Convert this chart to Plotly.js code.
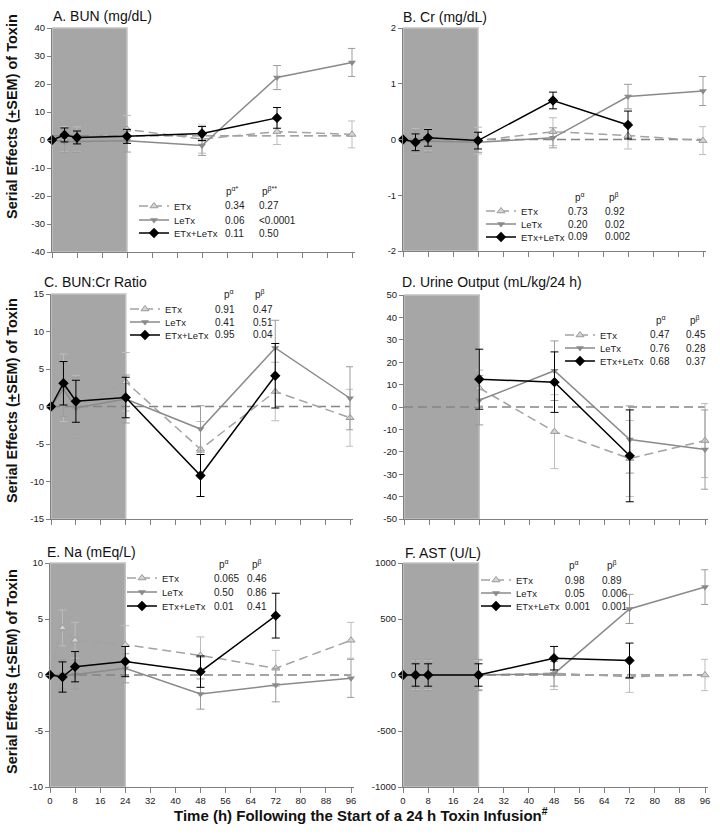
<!DOCTYPE html>
<html><head><meta charset="utf-8">
<script src="https://cdn.plot.ly/plotly-3.0.1.min.js"></script>
<style>html,body{margin:0;padding:0;background:#fff}</style>
</head><body><div id="chart" style="width:720px;height:835px"></div>
<script>
// ---------------- DATA ----------------
const timesH = [0, 4, 8, 24, 48, 72, 96];
const infusionWindow = [0, 24];
const xTickVals = [0, 8, 16, 24, 32, 40, 48, 56, 64, 72, 80, 88, 96];
const seriesNames = ['ETx', 'LeTx', 'ETx+LeTx'];
const refTimes = [0, 96];

// A. BUN (mg/dL)
const bunETx = [0, 0.3, 0.2, 3.8, 0.3, 3.0, 2.0];
const bunETxErr = [null, 4.5, 4.5, 5.0, 5.0, 4.6, 4.8];
const bunLeTx = [0, -0.5, -0.5, -0.3, -2.0, 22.3, 27.7];
const bunLeTxErr = [null, 4.0, 4.0, 4.0, 3.5, 4.3, 5.0];
const bunCombo = [0, 1.8, 0.9, 1.3, 2.3, 7.9];
const bunComboErr = [null, 2.5, 2.3, 2.5, 2.5, 3.7];
const bunRef = [1.5, 1.5];
const bunPAlpha = ['0.34', '0.06', '0.11'];
const bunPBeta = ['0.27', '&lt;0.0001', '0.50'];
const bunTicks = [-40, -30, -20, -10, 0, 10, 20, 30, 40];

// B. Cr (mg/dL)
const crETx = [0, -0.02, 0, -0.02, 0.14, 0.07, -0.02];
const crETxErr = [null, 0.22, 0.2, 0.24, 0.25, 0.24, 0.25];
const crLeTx = [0, -0.03, -0.03, -0.05, 0.03, 0.77, 0.87];
const crLeTxErr = [null, 0.2, 0.2, 0.18, 0.18, 0.22, 0.26];
const crCombo = [0, -0.05, 0.03, -0.02, 0.70, 0.26];
const crComboErr = [null, 0.15, 0.15, 0.15, 0.15, 0.25];
const crRef = [0, 0];
const crPAlpha = ['0.73', '0.20', '0.09'];
const crPBeta = ['0.92', '0.02', '0.002'];
const crTicks = [-2, -1, 0, 1, 2];

// C. BUN:Cr Ratio
const ratioETx = [0, 2.5, -0.1, 3.3, -5.7, 2.0, -1.5];
const ratioETxErr = [null, 4.5, 4.2, 3.9, 3.7, 3.9, 3.8];
const ratioLeTx = [0, 2.3, -0.2, 1.0, -3.0, 7.8, 1.1];
const ratioLeTxErr = [null, 3.6, 4.1, 3.2, 3.1, 3.7, 4.2];
const ratioCombo = [0, 3.1, 0.7, 1.2, -9.2, 4.1];
const ratioComboErr = [null, 2.9, 2.8, 2.7, 2.8, 4.3];
const ratioRef = [0, 0];
const ratioPAlpha = ['0.91', '0.41', '0.95'];
const ratioPBeta = ['0.47', '0.51', '0.04'];
const ratioTicks = [-15, -10, -5, 0, 5, 10, 15];

// D. Urine Output (mL/kg/24 h)
const urineETx = [null, null, null, 8.5, -11.0, -23.0, -15.0];
const urineETxErr = [null, null, null, 8.0, 16.5, 17.0, 16.5];
const urineLeTx = [null, null, null, 3.0, 16.2, -14.5, -19.0];
const urineLeTxErr = [null, null, null, 11.0, 13.3, 15.0, 17.7];
const urineCombo = [null, null, null, 12.4, 11.1, -21.8];
const urineComboErr = [null, null, null, 13.4, 13.5, 20.5];
const urineRef = [0, 0];
const urinePAlpha = ['0.47', '0.76', '0.68'];
const urinePBeta = ['0.45', '0.28', '0.37'];
const urineTicks = [-50, -40, -30, -20, -10, 0, 10, 20, 30, 40, 50];

// E. Na (mEq/L)
const naETx = [0, 4.2, 3.1, 2.7, 1.75, 0.6, 3.1];
const naETxErr = [null, 1.6, 1.6, 1.7, 1.65, 1.6, 1.6];
const naLeTx = [0, 0.05, 0.05, 0.6, -1.7, -0.9, -0.3];
const naLeTxErr = [null, 1.3, 1.3, 1.3, 1.35, 1.5, 1.7];
const naCombo = [0, -0.18, 0.74, 1.2, 0.3, 5.3];
const naComboErr = [null, 1.35, 1.35, 1.35, 1.4, 2.0];
const naRef = [0, 0];
const naPAlpha = ['0.065', '0.50', '0.01'];
const naPBeta = ['0.46', '0.86', '0.41'];
const naTicks = [-10, -5, 0, 5, 10];

// F. AST (U/L)
const astETx = [0, 0, 0, 0, 15, -15, 0];
const astETxErr = [null, 130, 130, 130, 145, 140, 140];
const astLeTx = [0, 0, 0, 0, 10, 590, 785];
const astLeTxErr = [null, 140, 140, 140, 110, 130, 155];
const astCombo = [0, 0, 0, 0, 150, 130];
const astComboErr = [null, 100, 100, 100, 105, 155];
const astRef = [0, 0];
const astPAlpha = ['0.98', '0.05', '0.001'];
const astPBeta = ['0.89', '0.006', '0.001'];
const astTicks = [-1000, -500, 0, 500, 1000];

// ---------------- PANELS ----------------
const panels = [
  {title: 'A. BUN (mg/dL)', s: [bunETx, bunLeTx, bunCombo], e: [bunETxErr, bunLeTxErr, bunComboErr], ref: bunRef,
   pa: bunPAlpha, pb: bunPBeta, ticks: bunTicks, ha: 'p<sup>α*</sup>', hb: 'p<sup>β**</sup>'},
  {title: 'B. Cr (mg/dL)', s: [crETx, crLeTx, crCombo], e: [crETxErr, crLeTxErr, crComboErr], ref: crRef,
   pa: crPAlpha, pb: crPBeta, ticks: crTicks, ha: 'p<sup>α</sup>', hb: 'p<sup>β</sup>'},
  {title: 'C. BUN:Cr Ratio', s: [ratioETx, ratioLeTx, ratioCombo], e: [ratioETxErr, ratioLeTxErr, ratioComboErr], ref: ratioRef,
   pa: ratioPAlpha, pb: ratioPBeta, ticks: ratioTicks, ha: 'p<sup>α</sup>', hb: 'p<sup>β</sup>'},
  {title: 'D. Urine Output (mL/kg/24 h)', s: [urineETx, urineLeTx, urineCombo], e: [urineETxErr, urineLeTxErr, urineComboErr], ref: urineRef,
   pa: urinePAlpha, pb: urinePBeta, ticks: urineTicks, ha: 'p<sup>α</sup>', hb: 'p<sup>β</sup>'},
  {title: 'E. Na (mEq/L)', s: [naETx, naLeTx, naCombo], e: [naETxErr, naLeTxErr, naComboErr], ref: naRef,
   pa: naPAlpha, pb: naPBeta, ticks: naTicks, ha: 'p<sup>α</sup>', hb: 'p<sup>β</sup>'},
  {title: 'F. AST (U/L)', s: [astETx, astLeTx, astCombo], e: [astETxErr, astLeTxErr, astComboErr], ref: astRef,
   pa: astPAlpha, pb: astPBeta, ticks: astTicks, ha: 'p<sup>α</sup>', hb: 'p<sup>β</sup>'}
];

// layout geometry (pixels)
const geo = [
  {x0: 52, x96: 352, top: 28, bot: 252, legX: 134, rows: [206, 220, 233], hdr: 191, colA: 223, colB: 257, hdrA: 224, hdrB: 260, tX: 51, tY: 16},
  {x0: 403, x96: 703, top: 28, bot: 251, legX: 481, rows: [211, 224, 237], hdr: 197, colA: 566, colB: 603, hdrA: 573, hdrB: 607, tX: 401, tY: 17},
  {x0: 51, x96: 350, top: 294, bot: 519, legX: 125, rows: [309, 322, 335], hdr: 294, colA: 213, colB: 251, hdrA: 222, hdrB: 253, tX: 42, tY: 282},
  {x0: 404, x96: 705, top: 295, bot: 519, legX: 560, rows: [335, 348, 361], hdr: 320, colA: 648, colB: 684, hdrA: 654, hdrB: 688, tX: 400, tY: 282},
  {x0: 50, x96: 351, top: 563, bot: 787, legX: 122, rows: [578, 592, 606], hdr: 564, colA: 212, colB: 245, hdrA: 217, hdrB: 250, tX: 45, tY: 552},
  {x0: 403, x96: 705, top: 563, bot: 787, legX: 476, rows: [580, 593, 606], hdr: 565, colA: 563, colB: 600, hdrA: 567, hdrB: 605, tX: 403, tY: 553}
];

const W = 720, H = 835;
const fx = p => p / W;
const fy = p => 1 - p / H;
const FONT = '"Liberation Sans", Arial, Helvetica, sans-serif';

const styles = [
  {line: {color: '#a3a3a3', width: 1.5, dash: '9px,5px'},
   marker: {symbol: 'triangle-up', size: 7, color: '#d4d4d4', line: {color: '#9a9a9a', width: 1}}, err: '#bdbdbd'},
  {line: {color: '#8a8a8a', width: 1.5},
   marker: {symbol: 'triangle-down', size: 7, color: '#8a8a8a', line: {width: 0}}, err: '#9c9c9c'},
  {line: {color: '#000000', width: 1.5},
   marker: {symbol: 'diamond', size: 8, color: '#000000', line: {width: 0}}, err: '#000000'}
];

const traces = [];
const layout = {
  width: W, height: H,
  margin: {l: 0, r: 0, t: 0, b: 0},
  paper_bgcolor: '#ffffff', plot_bgcolor: 'rgba(0,0,0,0)',
  font: {family: FONT, color: '#222222'},
  showlegend: true,
  annotations: [], shapes: []
};

const ann = (text, x, y, size, extra) => Object.assign({text: text, xref: 'paper', yref: 'paper', x: fx(x), y: fy(y),
  xanchor: 'left', yanchor: 'middle', showarrow: false, font: {size: size, color: '#222222', family: FONT}}, extra || {});

panels.forEach((p, i) => {
  const g = geo[i];
  const n = i + 1;
  const xa = 'x' + (n === 1 ? '' : n), ya = 'y' + (n === 1 ? '' : n);
  const xKey = 'xaxis' + (n === 1 ? '' : n), yKey = 'yaxis' + (n === 1 ? '' : n);
  const xMax = 97;
  const right = g.x0 + (g.x96 - g.x0) * xMax / 96;
  const isBottom = i >= 4;

  layout[xKey] = {
    domain: [fx(g.x0), fx(right)], anchor: ya, range: [0, xMax],
    tickmode: 'array', tickvals: xTickVals, ticktext: xTickVals.map(String),
    showticklabels: isBottom, ticks: 'outside', ticklen: 5, tickcolor: '#808080', tickwidth: 1,
    showline: true, linecolor: '#808080', linewidth: 1, showgrid: false, zeroline: false,
    tickfont: {size: 9.5, color: '#222222', family: FONT}, fixedrange: true
  };
  layout[yKey] = {
    domain: [fy(g.bot), fy(g.top)], anchor: xa, range: [p.ticks[0], p.ticks[p.ticks.length - 1]],
    tickmode: 'array', tickvals: p.ticks, ticktext: p.ticks.map(String),
    ticks: 'outside', ticklen: 4, tickcolor: '#808080', tickwidth: 1,
    showline: true, linecolor: '#808080', linewidth: 1, showgrid: false, zeroline: false,
    tickfont: {size: 9.5, color: '#222222', family: FONT}, fixedrange: true
  };

  // infusion band
  layout.shapes.push({
    type: 'rect', xref: xa, yref: ya + ' domain', x0: infusionWindow[0], x1: infusionWindow[1], y0: 0, y1: 1,
    fillcolor: '#a6a6a6', line: {color: '#c2c2c2', width: 1.5}, layer: 'below'
  });

  // reference (dashed) line
  traces.push({
    x: refTimes, y: p.ref, xaxis: xa, yaxis: ya, mode: 'lines', showlegend: false, hoverinfo: 'skip',
    line: {color: '#858585', width: 1.3, dash: '9px,5px'}, cliponaxis: false
  });

  p.s.forEach((vals, k) => {
    const st = styles[k];
    const idx = i * 3 + k + 1;
    const legKey = 'legend' + (idx === 1 ? '' : idx);
    layout[legKey] = {
      x: fx(g.legX), y: fy(g.rows[k] - 14.5), xref: 'paper', yref: 'paper',
      xanchor: 'left', yanchor: 'top', bgcolor: 'rgba(0,0,0,0)', borderwidth: 0,
      font: {size: 9.5, color: '#222222', family: FONT}, tracegroupgap: 0
    };
    traces.push({
      x: timesH.slice(0, vals.length), y: vals, xaxis: xa, yaxis: ya,
      name: seriesNames[k], legend: legKey, mode: 'lines+markers',
      line: st.line, marker: st.marker, cliponaxis: false, hoverinfo: 'x+y',
      error_y: {type: 'data', array: p.e[k].map(v => (v === null ? NaN : v)), visible: true,
                color: st.err, thickness: 1, width: 4}
    });
    layout.annotations.push(ann(p.pa[k], g.colA, g.rows[k], 10));
    layout.annotations.push(ann(p.pb[k], g.colB, g.rows[k], 10));
  });

  // panel title
  layout.annotations.push(ann(p.title, g.tX, g.tY, 14, {font: {size: 14, color: '#111111', family: FONT}}));
  // p-value headers
  layout.annotations.push(ann(p.ha, g.hdrA, g.hdr, 10));
  layout.annotations.push(ann(p.hb, g.hdrB, g.hdr, 10));
});

// y axis titles (left column)
[117, 401, 672].forEach(yc => {
  layout.annotations.push(ann('<b>Serial Effects (<u>+</u>SEM) of Toxin</b>', 12, yc, 14.5,
    {xanchor: 'center', textangle: -90, font: {size: 14.5, color: '#111111', family: FONT}}));
});
// shared x axis title
layout.annotations.push(ann('<b>Time (h) Following the Start of a 24 h Toxin Infusion<sup>#</sup></b>', 361, 814, 15,
  {xanchor: 'center', font: {size: 15, color: '#111111', family: FONT}}));

Plotly.newPlot('chart', traces, layout, {displayModeBar: false, staticPlot: true});
</script>
</body></html>
